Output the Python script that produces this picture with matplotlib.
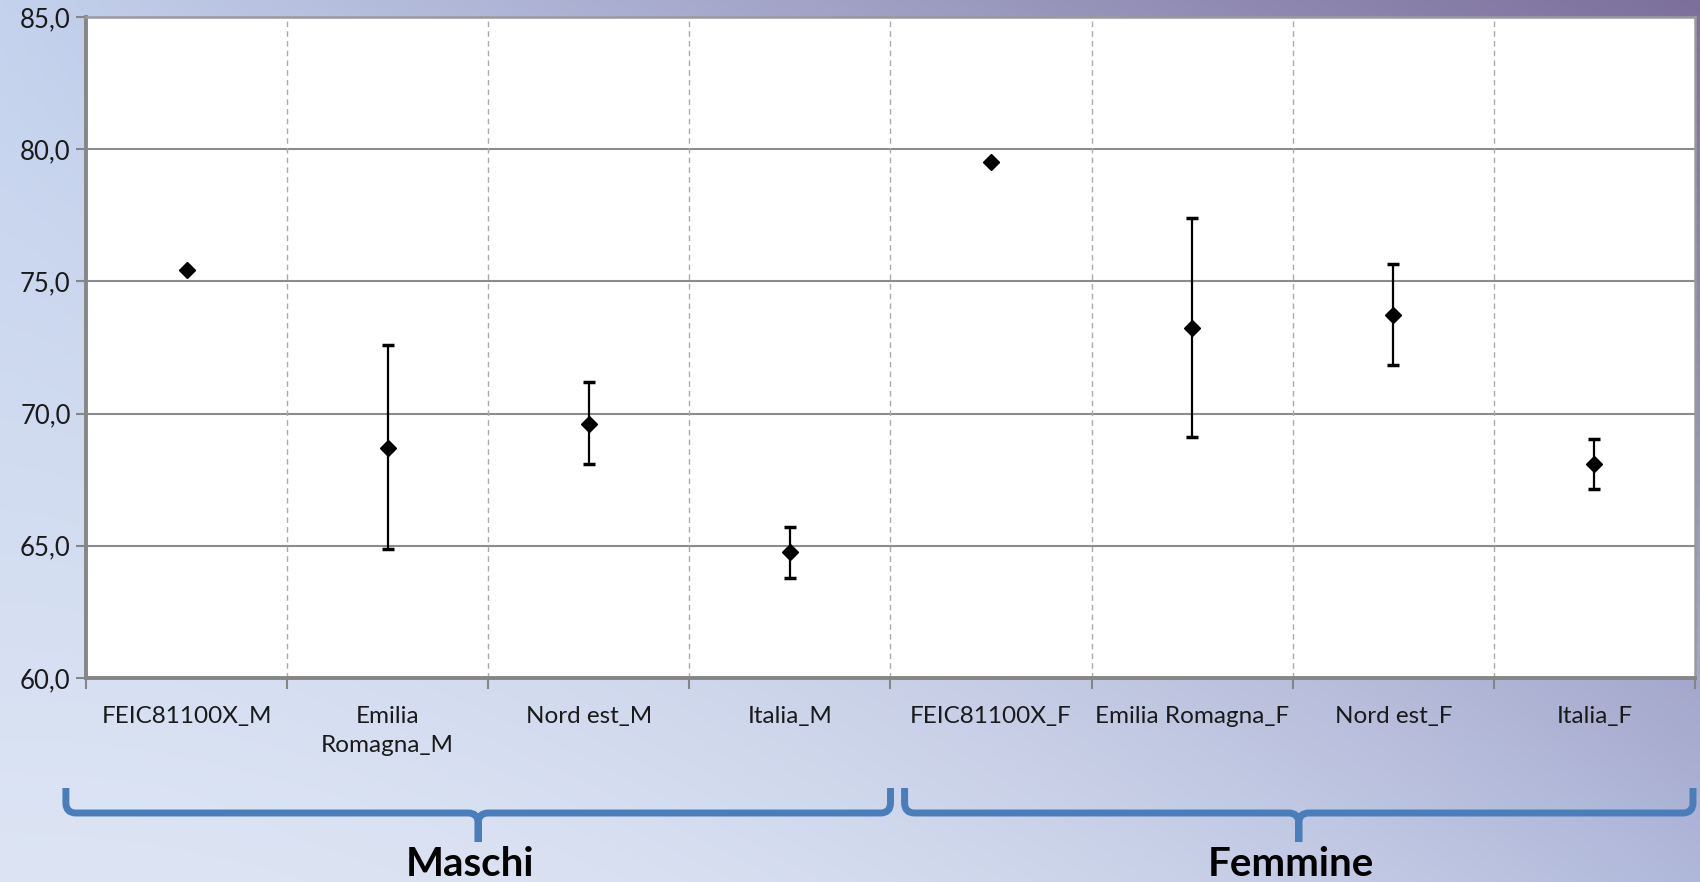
import numpy as np
import matplotlib
matplotlib.use("Agg")
import matplotlib.pyplot as plt
from matplotlib.path import Path
from matplotlib.patches import PathPatch
from matplotlib.ticker import FixedLocator, FuncFormatter, NullFormatter
from matplotlib.transforms import blended_transform_factory

plt.rcParams["font.family"] = ["Lato", "DejaVu Sans"]

# ── data ──
categories = ["FEIC81100X_M", "Emilia\nRomagna_M", "Nord est_M", "Italia_M",
              "FEIC81100X_F", "Emilia Romagna_F", "Nord est_F", "Italia_F"]
values = [75.45, 68.71, 69.62, 64.75, 79.52, 73.25, 73.74, 68.08]
upper = [np.nan, 72.58, 71.20, 65.70, np.nan, 77.40, 75.66, 69.03]
lower = [np.nan, 64.87, 68.09, 63.80, np.nan, 69.10, 71.83, 67.15]
groups = ["Maschi", "Femmine"]

W, H = 1700, 882
fig = plt.figure(figsize=(W / 100, H / 100), dpi=100)

# background gradient: light blue, turning purple toward the top-right corner
def hex2rgb(h):
    h = h.lstrip("#")
    return np.array([int(h[i:i + 2], 16) / 255 for i in (0, 2, 4)])

tl, tr = hex2rgb("#c4d2ed"), hex2rgb("#7c6f9c")
bl, br = hex2rgb("#dde5f4"), hex2rgb("#b0b8da")
gx, gy = np.meshgrid(np.linspace(0, 1, 340), np.linspace(0, 1, 180))
px = gx ** (1 + 1.2 * gy)   # purple spreads less along the bottom
px, gyy = px[..., None], gy[..., None]
grad = (tl * (1 - px) * (1 - gyy) + tr * px * (1 - gyy)
        + bl * (1 - px) * gyy + br * px * gyy)
bg = fig.add_axes([0, 0, 1, 1], zorder=-10)
bg.imshow(grad, extent=[0, 1, 0, 1], aspect="auto", interpolation="bilinear")
bg.axis("off")

ax = fig.add_axes([86 / W, 1 - 678 / H, (1695 - 86) / W, (678 - 17) / H])
ax.set_facecolor("white")

x = np.arange(len(categories))
vals = np.array(values)
up = np.array(upper)
lo = np.array(lower)
has_err = ~np.isnan(up)

ax.errorbar(x[has_err], vals[has_err],
            yerr=[vals[has_err] - lo[has_err], up[has_err] - vals[has_err]],
            fmt="none", ecolor="black", elinewidth=1.6, capsize=4, capthick=2.5,
            zorder=3)
ax.plot(x, vals, linestyle="none", marker="D", markersize=8.5,
        color="black", zorder=4)

ax.set_xlim(-0.5, len(categories) - 0.5)
ax.set_ylim(60, 85)

# y axis
ax.set_yticks([60, 65, 70, 75, 80, 85])
ax.yaxis.set_major_formatter(FuncFormatter(lambda v, p: f"{v:.1f}".replace(".", ",")))
ax.tick_params(axis="y", direction="out", length=7, width=1.5, color="#868686",
               labelsize=18.5, pad=4, labelcolor="#1a1a1a")
ax.grid(axis="y", color="#8c8c8c", linewidth=1.5, zorder=1)

# x axis: ticks at boundaries, labels at centres
bounds = np.arange(-0.5, len(categories), 1.0)
ax.xaxis.set_major_locator(FixedLocator(bounds))
ax.xaxis.set_major_formatter(NullFormatter())
ax.xaxis.set_minor_locator(FixedLocator(x))
ax.set_xticklabels(categories, minor=True, fontsize=17.5, color="#1a1a1a",
                   linespacing=1.5)
ax.tick_params(axis="x", which="major", direction="out", length=8, width=1.5,
               color="#868686")
ax.tick_params(axis="x", which="minor", length=0, pad=20)
for b in bounds[1:-1]:
    ax.axvline(b, color="#aaaaaa", linewidth=1, linestyle=(0, (4, 3)), zorder=1)
ax.set_axisbelow(True)

for side in ("left", "bottom"):
    ax.spines[side].set_color("#868686")
    ax.spines[side].set_linewidth(2.8)
for side in ("top", "right"):
    ax.spines[side].set_color("#9a9a9a")
    ax.spines[side].set_linewidth(1.8)

# group braces under the category labels
trans = blended_transform_factory(ax.transData, fig.transFigure)
y_top, y_h, y_tip = 1 - 788 / H, 1 - 813 / H, 1 - 842 / H
ry = 10 / H
rx = 0.05
brace_x = [(-0.6, 3.5), (3.57, 7.49)]
for (x0, x1), name in zip(brace_x, groups):
    xm = (x0 + x1) / 2
    verts = [(x0, y_top), (x0, y_h + ry), (x0, y_h), (x0 + rx, y_h),
             (xm - rx, y_h), (xm, y_h), (xm, y_h - ry), (xm, y_tip),
             (xm, y_tip), (xm, y_h - ry), (xm, y_h), (xm + rx, y_h),
             (x1 - rx, y_h), (x1, y_h), (x1, y_h + ry), (x1, y_top)]
    codes = [Path.MOVETO, Path.LINETO, Path.CURVE3, Path.CURVE3,
             Path.LINETO, Path.CURVE3, Path.CURVE3, Path.LINETO,
             Path.MOVETO, Path.LINETO, Path.CURVE3, Path.CURVE3,
             Path.LINETO, Path.CURVE3, Path.CURVE3, Path.LINETO]
    patch = PathPatch(Path(verts, codes), transform=trans, fill=False,
                      edgecolor="#4a7ebb", linewidth=5, capstyle="butt",
                      joinstyle="round", clip_on=False)
    fig.add_artist(patch)
    fig.text(xm - 0.04, 1 - 864 / H, name, transform=trans, fontsize=29,
             fontweight="bold", ha="center", va="center", color="black")

fig.savefig("out.png", dpi=100)
